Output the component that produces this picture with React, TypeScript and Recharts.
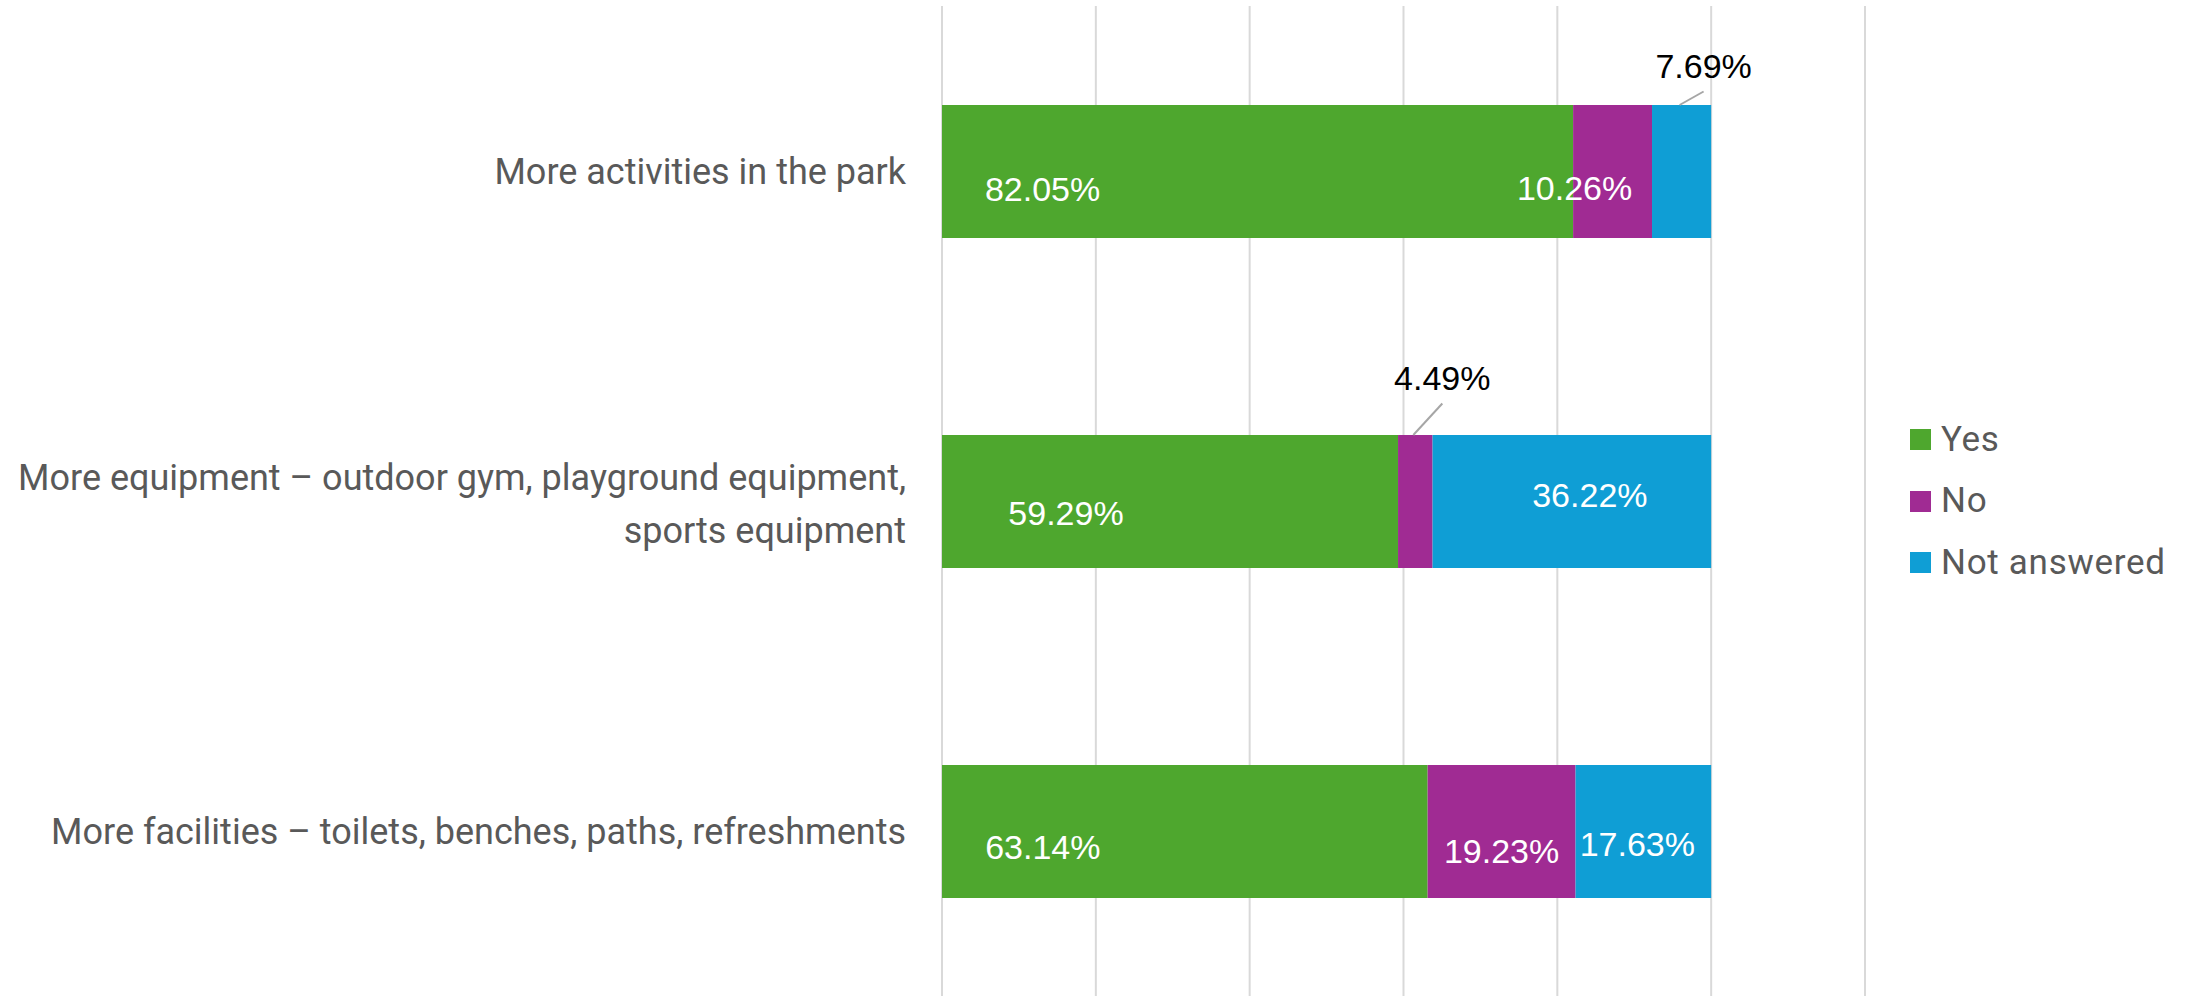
import React from "react";
import { BarChart, Bar, XAxis, YAxis, CartesianGrid, Legend, LabelList } from "recharts";

// survey answers, in percent
const categories = [
  "More activities in the park",
  "More equipment – outdoor gym, playground equipment, sports equipment",
  "More facilities – toilets, benches, paths, refreshments",
];
const yesValues = [82.05, 59.29, 63.14];
const noValues = [10.26, 4.49, 19.23];
const notAnsweredValues = [7.69, 36.22, 17.63];
const seriesNames = ["Yes", "No", "Not answered"];
const xTicks = [0, 20, 40, 60, 80, 100, 120];

const green = "#4EA72E";
const purple = "#A02B93";
const blue = "#0F9ED5";

// where Excel put each data label, relative to the middle of its segment
const labelNudge: Record<string, number[][]> = {
  yes: [[-215, 17], [-104, 11], [-142, 15]],
  no: [[-38, 16], [27, -124], [0, 19]],
  na: [[22, -106], [18, -7], [-6, 12]],
};
const withLeader: Record<string, boolean[]> = {
  yes: [false, false, false],
  no: [false, true, false],
  na: [true, false, false],
};
const seriesValues: Record<string, number[]> = { yes: yesValues, no: noValues, na: notAnsweredValues };

const data = categories.map((name, i) => ({
  name,
  yes: yesValues[i],
  no: noValues[i],
  na: notAnsweredValues[i],
}));

function wrapLabel(text: string, maxChars: number) {
  const words = text.split(" ");
  const lines: string[] = [];
  let cur = "";
  for (const w of words) {
    const next = cur ? cur + " " + w : w;
    if (next.length > maxChars && cur) {
      lines.push(cur);
      cur = w;
    } else {
      cur = next;
    }
  }
  if (cur) lines.push(cur);
  return lines;
}

const CategoryTick = (props: any) => {
  const { x, y, payload } = props;
  const lines = wrapLabel(String(payload.value), 56);
  const lineHeight = 53;
  const fontSize = 36;
  const start = y - ((lines.length - 1) * lineHeight) / 2 + 3 * (lines.length - 1) + fontSize * 0.35;
  return (
    <text x={x} y={start} textAnchor="end" fill="#595959" fontSize={fontSize} fontFamily="Roboto, sans-serif">
      {lines.map((l, i) => (
        <tspan key={i} x={x} y={start + i * lineHeight}>
          {l}
        </tspan>
      ))}
    </text>
  );
};

const makeLabel = (key: string) => (props: any) => {
  const { x, y, width, height, value } = props;
  let index = props.index;
  if (index === undefined || index === null) index = seriesValues[key].indexOf(Number(value));
  const cx = Number(x) + Number(width) / 2;
  const cy = Number(y) + Number(height) / 2;
  const [dx, dy] = labelNudge[key][index] || [0, 0];
  const lx = cx + dx;
  const ly = cy + dy;
  const outside = withLeader[key][index];
  return (
    <g>
      {outside && <line x1={cx - 2} y1={Number(y)} x2={lx} y2={ly + 26} stroke="#A6A6A6" strokeWidth={2} />}
      <text
        x={lx}
        y={ly + 12}
        textAnchor="middle"
        fill={outside ? "#000000" : "#FFFFFF"}
        fontSize={34}
        fontFamily="'Liberation Sans', Arial, sans-serif"
      >
        {`${Number(value).toFixed(2)}%`}
      </text>
    </g>
  );
};

const LegendContent = (props: any) => {
  const items = [...(props.payload || [])].sort(
    (a: any, b: any) => seriesNames.indexOf(a.value) - seriesNames.indexOf(b.value)
  );
  return (
    <div>
      {items.map((p: any) => (
        <div key={p.value} style={{ display: "flex", alignItems: "center", height: 61.5 }}>
          <span style={{ display: "inline-block", width: 21, height: 21, background: p.color, marginRight: 10 }} />
          <span
            style={{
              fontFamily: "Roboto, sans-serif",
              fontSize: 35,
              letterSpacing: 0.7,
              color: "#595959",
              lineHeight: "40px",
              whiteSpace: "nowrap",
            }}
          >
            {p.value}
          </span>
        </div>
      ))}
    </div>
  );
};

export default function App() {
  return (
    <div style={{ position: "absolute", left: 0, top: 0, width: 2192, height: 996, background: "#fff" }}>
      <BarChart
        width={2192}
        height={996}
        data={data}
        layout="vertical"
        margin={{ top: 6, right: 327, bottom: 0, left: 0 }}
        style={{ fontFamily: "Roboto, sans-serif" }}
      >
        <CartesianGrid horizontal={false} stroke="#D9D9D9" strokeWidth={2} />
        <XAxis type="number" domain={[0, 120]} ticks={xTicks} hide />
        <YAxis
          dataKey="name"
          type="category"
          width={942}
          axisLine={false}
          tickLine={false}
          tickSize={0}
          tickMargin={36}
          tick={<CategoryTick />}
          interval={0}
        />
        <Legend
          layout="vertical"
          align="center"
          verticalAlign="middle"
          content={<LegendContent />}
          wrapperStyle={{ left: 1910, top: 409, width: 280 }}
        />
        <Bar dataKey="yes" name={seriesNames[0]} stackId="a" fill={green} barSize={133} isAnimationActive={false}>
          <LabelList dataKey="yes" content={makeLabel("yes")} />
        </Bar>
        <Bar dataKey="no" name={seriesNames[1]} stackId="a" fill={purple} barSize={133} isAnimationActive={false}>
          <LabelList dataKey="no" content={makeLabel("no")} />
        </Bar>
        <Bar dataKey="na" name={seriesNames[2]} stackId="a" fill={blue} barSize={133} isAnimationActive={false}>
          <LabelList dataKey="na" content={makeLabel("na")} />
        </Bar>
      </BarChart>
    </div>
  );
}
